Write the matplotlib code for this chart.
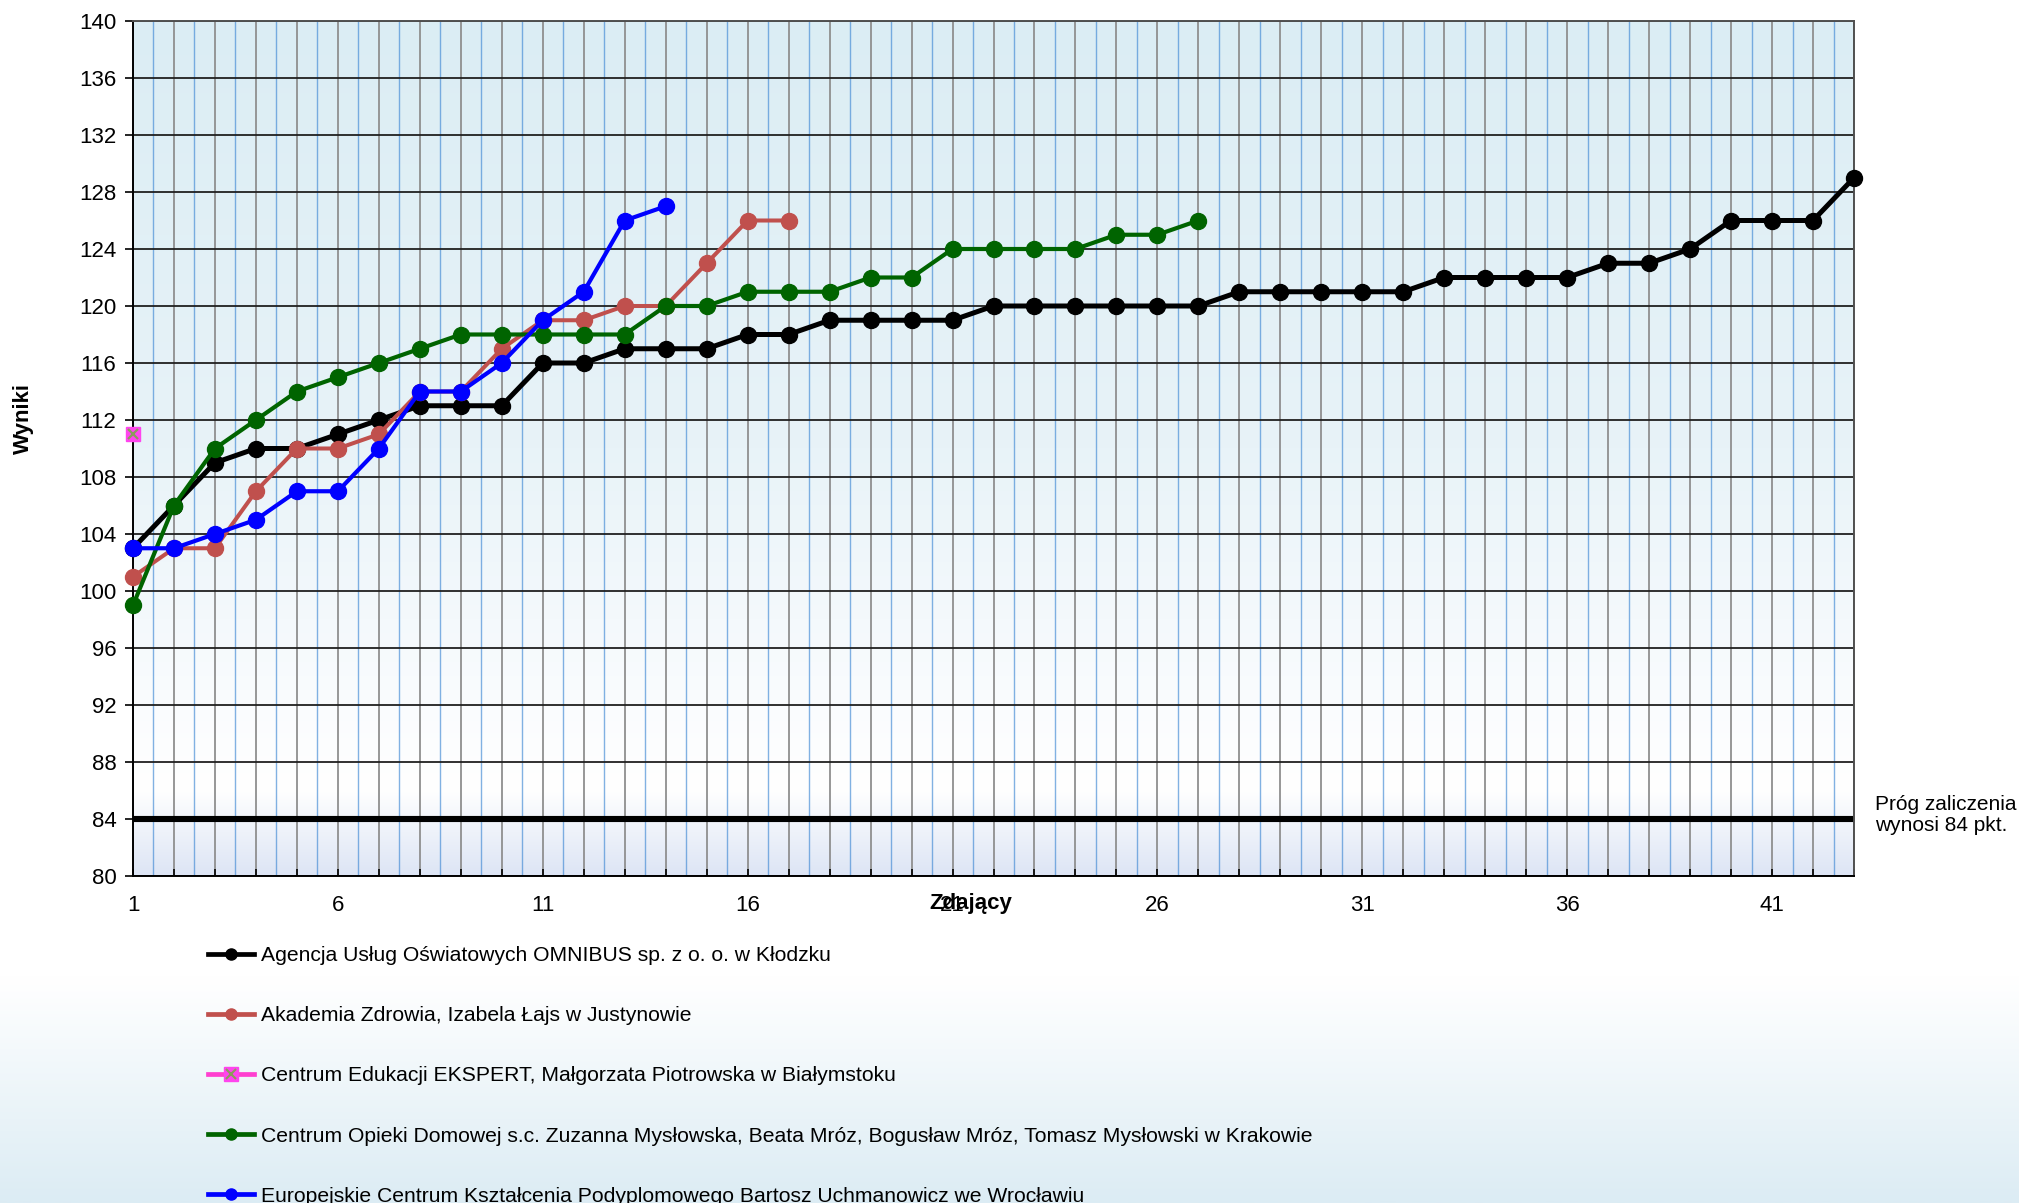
import numpy as np
import matplotlib
matplotlib.use('Agg')
import matplotlib.pyplot as plt
from matplotlib.lines import Line2D

plt.rcParams['font.family'] = ['Liberation Sans', 'DejaVu Sans']

# --- data ---
agencja = [103, 106, 109, 110, 110, 111, 112, 113, 113, 113, 116, 116, 117, 117, 117,
           118, 118, 119, 119, 119, 119, 120, 120, 120, 120, 120, 120, 121, 121, 121,
           121, 121, 122, 122, 122, 122, 123, 123, 124, 126, 126, 126, 129]
akademia = [101, 103, 103, 107, 110, 110, 111, 114, 114, 117, 119, 119, 120, 120, 123, 126, 126]
ekspert = [111]
opieka = [99, 106, 110, 112, 114, 115, 116, 117, 118, 118, 118, 118, 118, 120, 120,
          121, 121, 121, 122, 122, 124, 124, 124, 124, 125, 125, 126]
europejskie = [103, 103, 104, 105, 107, 107, 110, 114, 114, 116, 119, 121, 126, 127]

series_names = [
    'Agencja Usług Oświatowych OMNIBUS sp. z o. o. w Kłodzku',
    'Akademia Zdrowia, Izabela Łajs w Justynowie',
    'Centrum Edukacji EKSPERT, Małgorzata Piotrowska w Białymstoku',
    'Centrum Opieki Domowej s.c. Zuzanna Mysłowska, Beata Mróz, Bogusław Mróz, Tomasz Mysłowski w Krakowie',
    'Europejskie Centrum Kształcenia Podyplomowego Bartosz Uchmanowicz we Wrocławiu',
]
threshold = 84
threshold_label = 'Próg zaliczenia\nwynosi 84 pkt.'
y_ticks = list(range(80, 141, 4))
x_label_every = [1, 6, 11, 16, 21, 26, 31, 36, 41]
n_max = 43

W, H = 2019, 1203
fig = plt.figure(figsize=(W / 100, H / 100), dpi=100)

# figure background: white fading into light blue at the bottom
bg = fig.add_axes([0, 0, 1, 1], zorder=-10)
rows = np.linspace(0, 1, 300)
stops_pos = [0.0, 0.185, 1.0]
stops_col = np.array([[220, 236, 244], [255, 255, 255], [255, 255, 255]]) / 255
grad = np.stack([np.interp(rows, stops_pos, stops_col[:, k]) for k in range(3)], axis=1)
bg.imshow(grad[::-1, None, :], aspect='auto', extent=[0, 1, 0, 1], interpolation='bilinear')
bg.set_axis_off()

ax = fig.add_axes([133 / W, 1 - 876 / H, (1854 - 133) / W, (876 - 21) / H])
ax.patch.set_alpha(0)

# plot area gradient (by y value)
vals = np.linspace(80, 140, 400)
pv = [80, 86, 92, 110, 140]
pc = np.array([[221, 229, 245], [255, 255, 255], [250, 252, 254], [232, 243, 248], [219, 237, 244]]) / 255
g2 = np.stack([np.interp(vals, pv, pc[:, k]) for k in range(3)], axis=1)
ax.imshow(g2[::-1, None, :], aspect='auto', extent=[1, n_max, 80, 140], zorder=0, interpolation='bilinear')

ax.set_xlim(1, n_max)
ax.set_ylim(80, 140)

ax.set_xticks(range(1, n_max + 1))
ax.set_xticklabels([str(i) if i in x_label_every else '' for i in range(1, n_max + 1)])
ax.set_xticks(np.arange(1.5, n_max, 1), minor=True)
ax.set_yticks(y_ticks)
ax.tick_params(axis='x', which='major', direction='in', length=5, width=1.2, labelsize=16, pad=14)
ax.tick_params(axis='x', which='minor', length=0)
ax.tick_params(axis='y', direction='out', length=6, width=1.2, labelsize=16, pad=6)

ax.grid(which='major', axis='x', color='#8f8f8f', lw=1.3, zorder=1)
ax.grid(which='minor', axis='x', color='#3f88d4', lw=1.0, alpha=0.65, zorder=1)
ax.grid(which='major', axis='y', color='#202020', lw=1.3, zorder=1)
ax.set_axisbelow(True)

for side in ['left', 'bottom']:
    ax.spines[side].set_color('black')
    ax.spines[side].set_linewidth(1.4)
for side in ['top', 'right']:
    ax.spines[side].set_color('#505050')
    ax.spines[side].set_linewidth(1.4)

ax.axhline(threshold, color='black', lw=4.4, zorder=2)

ms = 11.5
styles = [
    dict(color='black', lw=3.6, marker='o', ms=ms),
    dict(color='#c0504d', lw=2.9, marker='o', ms=ms),
    dict(color='#ff3fd0', lw=2.9, marker='s', ms=10, mfc='#ff44ee', mec='#ff44ee'),
    dict(color='#006400', lw=3.0, marker='o', ms=ms),
    dict(color='#0000ff', lw=3.0, marker='o', ms=ms),
]
all_series = [agencja, akademia, ekspert, opieka, europejskie]
for data, st in zip(all_series, styles):
    x = np.arange(1, len(data) + 1)
    ax.plot(x, data, clip_on=False, zorder=3, **st)
    if st['marker'] == 's':
        ax.plot(x, data, ls='none', marker='x', ms=7, mec='#8c9a5b', mew=1.6, clip_on=False, zorder=3)

# legend below the chart
handles = []
for st in styles:
    h = Line2D([], [], color=st['color'], lw=3.4, marker=st['marker'],
               ms=8 if st['marker'] == 'o' else 10,
               mfc=st.get('mfc', st['color']), mec=st.get('mec', st['color']))
    if st['marker'] == 's':
        h = (h, Line2D([], [], ls='none', marker='x', ms=7, mec='#8c9a5b', mew=1.5))
    handles.append(h)
leg = fig.legend(handles, series_names, loc='upper left', bbox_to_anchor=(208 / W, 1 - 946 / H),
                 frameon=False, fontsize=15.2, handlelength=2.2, handletextpad=0.3,
                 labelspacing=1.95, borderpad=0, borderaxespad=0)

fig.text(23 / W, 1 - 418 / H, 'Wyniki', rotation=90, ha='center', va='center',
         fontsize=16, fontweight='bold')
fig.text(971 / W, 1 - 903 / H, 'Zdający', ha='center', va='center', fontsize=16, fontweight='bold')
fig.text(1875 / W, 1 - 815 / H, threshold_label, ha='left', va='center', fontsize=15, linespacing=1.1)

fig.savefig('out.png', dpi=100)
